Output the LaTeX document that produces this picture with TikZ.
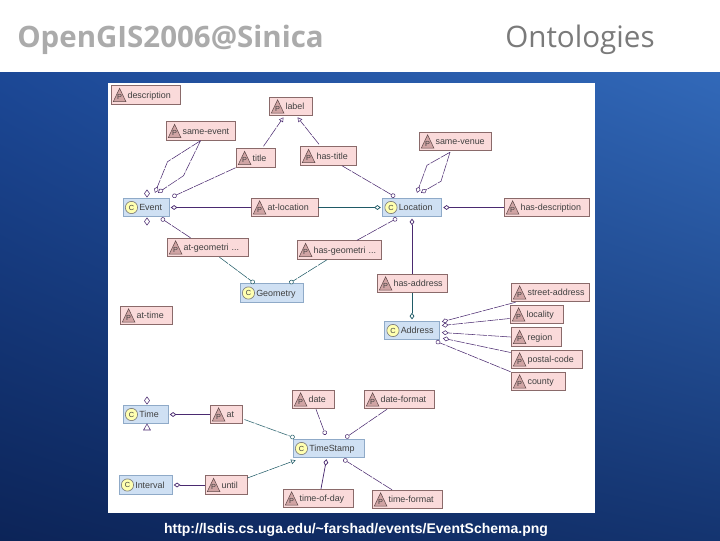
\documentclass[tikz,border=0pt]{standalone}
\usepackage{fontspec}
\setmainfont{Liberation Sans}
\newfontfamily\topicfont{Open Sans}
\usepackage{tikz}
\usetikzlibrary{calc}
\usetikzlibrary{arrows.meta}
\usetikzlibrary{shapes.geometric}
\usetikzlibrary{shadings}

\definecolor{propfill}{HTML}{FADADA}
\definecolor{propedge}{HTML}{8A6A6A}
\definecolor{propicon}{HTML}{D0A4A4}
\definecolor{classfill}{HTML}{CFE0F3}
\definecolor{classedge}{HTML}{8FAAC8}
\definecolor{classicon}{HTML}{FFFFB0}
\definecolor{domline}{HTML}{4A2A70}
\definecolor{ranline}{HTML}{1F5A66}
\definecolor{slideul}{HTML}{1C4896}
\definecolor{slideur}{HTML}{3269B9}
\definecolor{slidell}{HTML}{0C2458}
\definecolor{slidelr}{HTML}{143470}

\tikzset{
    boxw/.style={text width=#1*0.75pt-3pt},
    prop/.style={draw=propedge, fill=propfill, line width=0.6pt, inner xsep=1.5pt, inner ysep=0pt,
        minimum height=14pt, align=left, text=black!75, font=\fontsize{6.7}{7}\selectfont},
    cls/.style={prop, draw=classedge, fill=classfill},
    iconletter/.style={draw=none, fill=none, text width={}, minimum height=0pt, inner sep=0pt,
        text=black!75, font=\fontsize{5.5}{6}\selectfont},
    dmd/.tip={Diamond[fill=white,length=5pt,width=3.6pt]},
    crc/.tip={Circle[fill=white,length=3.4pt]},
    tri/.tip={Triangle[fill=white,length=3.4pt,width=3.6pt]},
    domlink/.style={draw=domline, line width=0.55pt},
    ranlink/.style={draw=ranline, line width=0.55pt},
    softdom/.style={domlink, line width=0.4pt, dash pattern=on 8pt off 0.8pt},
    softran/.style={ranlink, line width=0.4pt, dash pattern=on 8pt off 0.8pt},
    loose/.style={draw=domline, fill=white, line width=0.4pt, diamond, inner sep=0pt,
        minimum width=4pt, minimum height=5.6pt},
    loosetri/.style={draw=domline, fill=white, line width=0.4pt, regular polygon, regular polygon sides=3,
        inner sep=0pt, minimum size=6pt}
}

% the two small icons
\newcommand{\picon}{\tikz[x=1pt,y=1pt,baseline=2.6pt]{%
    \draw[draw=propedge!70!black, fill=propicon, line width=0.4pt] (0,0) -- (9.5,0) -- (4.75,10) -- cycle;
    \node[iconletter] at (4.75,3.4) {P};}\hspace{1pt}}
\newcommand{\cicon}{\tikz[x=1pt,y=1pt,baseline=2.6pt]{%
    \draw[draw=black!50, fill=classicon, line width=0.5pt] (5,5) circle (4.6);
    \node[iconletter] at (5,5) {C};}\hspace{1pt}}

\begin{document}
\begin{tikzpicture}[x=0.75pt, y=-0.75pt]
    \useasboundingbox (0,0) rectangle (720,540);

    % the slide
    \shade[upper left=slideul, upper right=slideur, lower left=slidell, lower right=slidelr]
        (0,72) rectangle (720,540);
    \fill[white] (0,0) rectangle (720,72);
    \fill[white] (108,83) rectangle (595,513);

    % the headings
    \node[anchor=base west, inner sep=0pt, text=black!33, font=\topicfont\bfseries\fontsize{22.1}{24}\selectfont] (heading) at (17,47) {OpenGIS2006@Sinica};
    \node[anchor=base west, inner sep=0pt, text=black!52, font=\topicfont\fontsize{22.2}{24}\selectfont] (topic) at (505,47) {Ontologies};
    \node[anchor=base, inner sep=0pt, text=white, font=\bfseries\fontsize{10.5}{12}\selectfont] (source) at (356,533) {http://lsdis.cs.uga.edu/\textasciitilde farshad/events/EventSchema.png};

    % the classes
    \node[cls, boxw=46] (Event) at (146,207.5) {\cicon Event};
    \node[cls, boxw=59] (Location) at (412,207.5) {\cicon Location};
    \node[cls, boxw=63] (Geometry) at (271.5,293) {\cicon Geometry};
    \node[cls, boxw=55] (Address) at (412,330.5) {\cicon Address};
    \node[cls, boxw=45] (Time) at (145.5,414.5) {\cicon Time};
    \node[cls, boxw=53] (Interval) at (145.5,485) {\cicon Interval};
    \node[cls, boxw=71] (TimeStamp) at (328.5,448.5) {\cicon TimeStamp};

    % the properties
    \node[prop, boxw=69] (description) at (145.5,95) {\picon description};
    \node[prop, boxw=43] (label) at (290.5,106.5) {\picon label};
    \node[prop, boxw=69] (sameevent) at (200.5,131) {\picon same-event};
    \node[prop, boxw=39] (title) at (255.5,158) {\picon title};
    \node[prop, boxw=56] (hastitle) at (328,156) {\picon has-title};
    \node[prop, boxw=67] (atlocation) at (284.5,207.5) {\picon at-location};
    \node[prop, boxw=81] (atgeometri) at (207.5,247.5) {\picon at-geometri ...};
    \node[prop, boxw=84] (hasgeometri) at (339,250) {\picon has-geometri ...};
    \node[prop, boxw=72] (samevenue) at (455,141.5) {\picon same-venue};
    \node[prop, boxw=85] (hasdescription) at (546.5,207.5) {\picon has-description};
    \node[prop, boxw=70] (hasaddress) at (412,283.5) {\picon has-address};
    \node[prop, boxw=78] (streetaddress) at (550,292.5) {\picon street-address};
    \node[prop, boxw=53] (locality) at (536.5,314.5) {\picon locality};
    \node[prop, boxw=50] (region) at (536,337) {\picon region};
    \node[prop, boxw=71] (postalcode) at (546.5,359.5) {\picon postal-code};
    \node[prop, boxw=54] (county) at (538,381.5) {\picon county};
    \node[prop, boxw=52] (attime) at (146,315.5) {\picon at-time};
    \node[prop, boxw=32] (at) at (226,414.5) {\picon at};
    \node[prop, boxw=42] (date) at (313,399.5) {\picon date};
    \node[prop, boxw=70] (dateformat) at (399,399.5) {\picon date-format};
    \node[prop, boxw=42] (until) at (226,485) {\picon until};
    \node[prop, boxw=70] (timeofday) at (318,498.5) {\picon time-of-day};
    \node[prop, boxw=70] (timeformat) at (407,499.5) {\picon time-format};

    % the markers with no line
    \node[loose] (eventtop) at (147,193.5) {};
    \node[loose] (eventbottom) at (147,221.5) {};
    \node[loose] (timetop) at (147,400.5) {};
    \node[loosetri] (timebottom) at (147,428) {};

    % the lines at the top
    \draw[softdom, -tri] ($(title.north)+(8,-2)$) -- ($(label.south)+(-7,1)$);
    \draw[softdom, -tri] ($(hastitle.north)+(-9,-2)$) -- ($(label.south)+(7,1)$);
    \draw[softdom, -crc] (title.south west) -- ($(Event.north east)+(3,-1)$);
    \draw[softdom, -crc] ($(hastitle.south)+(14,0)$) -- ($(Location.north)+(-17,-1)$);
    \draw[domlink, -dmd, shorten >=1pt] (atlocation) -- (Event);
    \draw[ranlink, -dmd, shorten >=1pt] (atlocation) -- (Location);
    \draw[domlink, -dmd, shorten >=1pt] (hasdescription) -- (Location);

    % the two loops
    \draw[softdom, -dmd] (sameevent.south) -- ++(-33,21) -- ($(Event.north)+(9,-5)$);
    \draw[softdom, -dmd] (sameevent.south) -- ++(-17,35) -- ($(Event.north)+(12,-5)$);
    \draw[softdom, -dmd] ($(samevenue.south)+(-5,1)$) -- ++(-23,13) -- ($(Location.north)+(5,-5)$);
    \draw[softdom, -dmd] ($(samevenue.south)+(-5,1)$) -- ++(-9,29) -- ($(Location.north)+(9,-5)$);

    % the geometry lines
    \draw[softdom, -crc] ($(atgeometri.north)+(-17,0)$) -- ($(Event.south)+(15,1)$);
    \draw[softran, -crc] ($(atgeometri.south)+(12,0)$) -- ($(Geometry.north)+(-17,0)$);
    \draw[softran, -crc] ($(hasgeometri.south)+(-12,0)$) -- ($(Geometry.north)+(18,0)$);
    \draw[softdom, -crc] ($(hasgeometri.north)+(18,0)$) -- ($(Location.south)+(-15,1)$);

    % the address lines
    \draw[domlink, -dmd, shorten >=1pt] (hasaddress) -- (Location);
    \draw[ranlink, -dmd, shorten >=1pt] (hasaddress) -- (Address);
    \draw[softdom, -dmd] ($(streetaddress.south west)+(5,0)$) -- ($(Address.north east)+(2,1)$);
    \draw[softdom, -dmd] ($(locality.west)+(0,4)$) -- ($(Address.east)+(2,-5)$);
    \draw[softdom, -dmd] (region.west) -- ($(Address.east)+(2,2)$);
    \draw[softdom, -dmd] ($(postalcode.west)+(0,-7)$) -- ($(Address.south east)+(3,-2)$);
    \draw[softdom, -crc] (county.north west) -- ($(Address.south east)+(-4,1)$);

    % the time lines
    \draw[domlink, -dmd, shorten >=1pt] (at) -- (Time);
    \draw[domlink, -dmd, shorten >=1pt] (until) -- (Interval);
    \draw[softran, -crc] ($(at.east)+(2,5)$) -- ($(TimeStamp.north west)+(2,-1)$);
    \draw[softran, -tri] ($(until.east)+(0,-7)$) -- ($(TimeStamp.south west)+(3,2)$);
    \draw[softdom, -crc] ($(date.south)+(3,0)$) -- ($(TimeStamp.north)+(-3,-4)$);
    \draw[softdom, -crc] ($(dateformat.south)+(-12,0)$) -- ($(TimeStamp.north east)+(-19,-1)$);
    \draw[domlink, -dmd] ($(timeofday.north)+(3,0)$) -- ($(TimeStamp.south)+(-2,1)$);
    \draw[softdom, -crc] ($(timeformat.north)+(-15,0)$) -- ($(TimeStamp.south east)+(-21,1)$);
\end{tikzpicture}
\end{document}
